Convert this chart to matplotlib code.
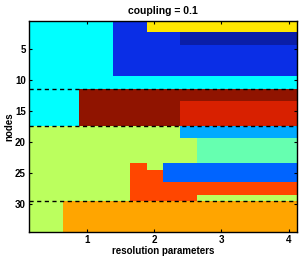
import numpy as np
import matplotlib
matplotlib.use("Agg")
import matplotlib.pyplot as plt
from matplotlib.colors import ListedColormap

# resolution parameters (column centres) and node ids
gammas = np.arange(1, 17) * 0.25
nodes = np.arange(1, 35)

# community colours (index = community label)
comm_colors = ["#00FFFF", "#0A2EE6", "#FFE600", "#0A1EA8", "#901400", "#D82000",
               "#BBFF5E", "#00AAFF", "#66FFB0", "#0064FF", "#FF4600", "#FFA500"]

# community label of each node (row) at each resolution parameter (column)
C, B, Y, N, M, R, L, S, A, B2, O, OR = range(12)
membership = [
    [C]*5 + [B]*2 + [Y]*9,          # 1
    [C]*5 + [B]*2 + [Y]*9,          # 2
    [C]*5 + [B]*4 + [N]*7,          # 3
    [C]*5 + [B]*4 + [N]*7,          # 4
    [C]*5 + [B]*11,                 # 5
    [C]*5 + [B]*11,
    [C]*5 + [B]*11,
    [C]*5 + [B]*11,
    [C]*5 + [B]*11,                 # 9
    [C]*16,                         # 10
    [C]*16,                         # 11
    [C]*3 + [M]*13,                 # 12
    [C]*3 + [M]*13,                 # 13
    [C]*3 + [M]*6 + [R]*7,          # 14
    [C]*3 + [M]*6 + [R]*7,
    [C]*3 + [M]*6 + [R]*7,
    [C]*3 + [M]*6 + [R]*7,          # 17
    [L]*9 + [S]*7,                  # 18
    [L]*9 + [S]*7,                  # 19
    [L]*10 + [A]*6,                 # 20
    [L]*10 + [A]*6,
    [L]*10 + [A]*6,
    [L]*10 + [A]*6,                 # 23
    [L]*6 + [O] + [L] + [B2]*8,     # 24
    [L]*6 + [O]*2 + [B2]*8,         # 25
    [L]*6 + [O]*2 + [B2]*8,         # 26
    [L]*6 + [O]*10,                 # 27
    [L]*6 + [O]*10,                 # 28
    [L]*6 + [O]*4 + [L]*6,          # 29
    [L]*2 + [OR]*14,                # 30
    [L]*2 + [OR]*14,
    [L]*2 + [OR]*14,
    [L]*2 + [OR]*14,
    [L]*2 + [OR]*14,                # 34
]

# boundaries between known groups of nodes
group_breaks = [11.5, 17.5, 29.5]

plt.rcParams['font.family'] = ['Liberation Sans', 'DejaVu Sans']
plt.rcParams['font.weight'] = 'bold'

fig = plt.figure(figsize=(3.0, 2.57), dpi=100)
ax = fig.add_axes([0.095, 0.097, 0.895, 0.823])

dg = gammas[1] - gammas[0]
ax.imshow(np.array(membership), cmap=ListedColormap(comm_colors), vmin=-0.5,
          vmax=len(comm_colors) - 0.5, aspect='auto', interpolation='nearest',
          extent=[gammas[0] - dg / 2, gammas[-1] + dg / 2, nodes[-1] + 0.5, nodes[0] - 0.5])

for yb in group_breaks:
    ax.axhline(yb, color='black', linestyle=(0, (3, 2.5)), linewidth=1.0)

ax.set_xticks([1, 2, 3, 4])
ax.set_yticks([5, 10, 15, 20, 25, 30])
ax.tick_params(direction='in', length=2.5, width=0.8, labelsize=7,
               top=True, right=True, pad=2)
for lab in ax.get_xticklabels() + ax.get_yticklabels():
    lab.set_fontweight('bold')
for sp in ax.spines.values():
    sp.set_linewidth(1.0)

ax.set_title('coupling = 0.1', fontsize=7.5, fontweight='bold', pad=5)
ax.set_xlabel('resolution parameters', fontsize=7, fontweight='bold', labelpad=1)
ax.set_ylabel('nodes', fontsize=7, fontweight='bold', labelpad=0)

fig.savefig('out.png', dpi=100)
